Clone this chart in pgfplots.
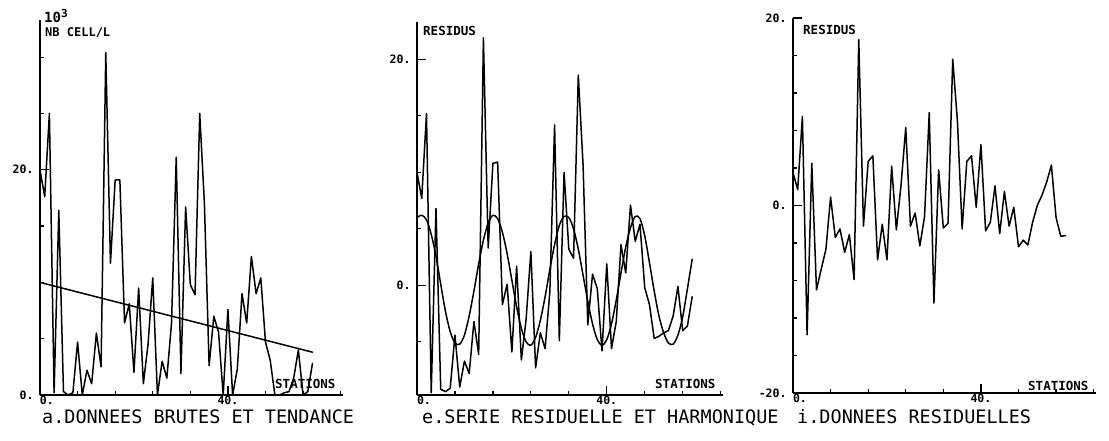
\documentclass[border=0pt]{standalone}
\usepackage{pgfplots}
\pgfplotsset{compat=1.18}
\usepackage{pgfplotstable}
\usepackage{fontspec}
\setmainfont{DejaVu Sans Mono}

\pgfplotstableread{
x a e h i
0 20.0 10.0 6.0 3.5
1 17.6 7.7 6.2 1.7
2 25.0 15.2 5.8 9.5
3 0.2 -9.5 4.5 -13.8
4 16.4 6.8 2.6 4.5
5 0.3 -9.2 0.1 -9.0
6 0.0 -9.4 -2.3 -6.8
7 0.2 -9.1 -4.1 -4.7
8 4.7 -4.4 -5.1 0.9
9 0.0 -9.0 -5.2 -3.4
10 2.2 -6.7 -4.4 -2.5
11 1.0 -7.8 -2.7 -5.0
12 5.5 -3.2 -0.5 -3.1
13 2.5 -6.1 1.9 -7.9
14 30.4 21.9 4.0 17.7
15 11.7 3.3 5.5 -2.2
16 19.1 10.8 6.2 4.7
17 19.1 10.9 5.9 5.3
18 6.4 -1.7 4.7 -5.8
19 8.1 0.1 2.8 -2.0
20 2.0 -5.9 0.45 -5.8
21 9.5 1.7 -1.9 4.2
22 1.0 -6.6 -3.8 -2.6
23 4.5 -3.0 -5.0 2.2
24 10.4 3.0 -5.3 8.3
25 0.0 -7.3 -4.6 -2.2
26 3.0 -4.2 -3.1 -0.8
27 1.5 -5.6 -1.0 -4.3
28 6.4 -0.6 1.4 -1.2
29 21.1 14.2 3.6 9.9
30 1.9 -4.9 5.3 -10.4
31 16.7 10.0 6.1 3.8
32 9.8 3.2 6.0 -2.4
33 8.9 2.4 5.0 -1.9
34 25.0 18.6 3.2 15.6
35 17.0 10.7 0.9 9.0
36 2.6 -3.5 -1.4 -2.5
37 7.0 1.0 -3.4 4.7
38 5.6 -0.3 -4.8 5.3
39 0.0 -5.8 -5.3 -0.2
40 7.6 1.9 -4.8 6.5
41 0.0 -5.6 -3.4 -2.7
42 2.3 -3.2 -1.3 -1.8
43 9.0 3.6 1.1 2.1
44 6.4 1.1 3.4 -3.0
45 12.3 7.1 5.1 1.5
46 9.0 3.9 6.1 -2.2
47 10.4 5.4 5.9 -0.2
48 4.7 -0.2 4.4 -4.4
49 3.1 -1.7 2.0 -3.7
50 0.0 -4.7 -0.5 -4.2
51 0.0 -4.5 -2.7 -1.8
52 0.2 -4.2 -4.2 0.0
53 0.3 -4.0 -5.1 1.1
54 1.5 -2.7 -5.2 2.5
55 4.0 -0.1 -4.4 4.3
56 0.0 -4.0 -2.8 -1.3
57 0.3 -3.6 -0.3 -3.3
58 2.8 -1.0 2.3 -3.2
}\data

\tikzset{pen/.style={black, line width=1.5pt, line join=round, line cap=round, mark=none}}

\pgfplotsset{
  plotter/.style={
    scale only axis,
    axis x line*=bottom, axis y line*=left,
    axis line style={-, black, line width=1.6pt},
    every outer x axis line/.append style={-},
    every outer y axis line/.append style={-},
    tick align=inside,
    tick style={black, line width=1.2pt},
    major tick length=9pt,
    minor tick length=4pt,
    xmin=0, xmax=64.5,
    xtick={0,40}, xticklabels={{\hphantom{00}0.},{40.}},
    minor xtick={8,16,24,32,48,56,64},
    ticklabel style={font=\bfseries\fontsize{11.5}{11.5}\selectfont},
    xticklabel style={yshift=3pt},
    yticklabel style={xshift=-3pt},
  }
}

\begin{document}
\begin{tikzpicture}
\useasboundingbox (0,0) rectangle (1109pt,440pt);

% panel a
\begin{axis}[plotter, at={(40pt,45pt)}, anchor=south west,
  width=303pt, height=375pt, ymin=0, ymax=33.3,
  ytick={0,20}, yticklabels={0.,20.}, minor ytick={5,10,15,25,30}]
\addplot[pen] table[x=x,y=a]{\data};
\addplot[pen] coordinates {(0,10.0) (58,3.8)};
\end{axis}

% panel e
\begin{axis}[plotter, at={(417pt,45pt)}, anchor=south west,
  width=306pt, height=373pt, ymin=-9.7, ymax=23.3,
  ytick={0,20}, yticklabels={0.,20.}, minor ytick={-5,5,10,15}]
\addplot[pen] table[x=x,y=e]{\data};
\addplot[pen, smooth, tension=0.5] table[x=x,y=h]{\data};
\end{axis}

% panel i
\begin{axis}[plotter, at={(793pt,47pt)}, anchor=south west,
  width=303pt, height=375pt, ymin=-20, ymax=20,
  ytick={-20,0,20}, yticklabels={-20.,0.,20.}, minor ytick={-16,-12,-8,-4,4,8,12,16}]
\addplot[pen] table[x=x,y=i]{\data};
\end{axis}

% labels
\node[anchor=base west, font=\bfseries\fontsize{14}{14}\selectfont, inner sep=0pt] at (44pt,417pt) {10\raisebox{5pt}{\fontsize{11}{11}\selectfont 3}};
\node[anchor=base west, font=\bfseries\fontsize{12}{12}\selectfont, inner sep=0pt] at (45pt,403pt) {NB CELL/L};
\node[anchor=base west, font=\bfseries\fontsize{12.5}{12}\selectfont, inner sep=0pt] at (423pt,404pt) {RESIDUS};
\node[anchor=base west, font=\bfseries\fontsize{12.5}{12}\selectfont, inner sep=0pt] at (803pt,405pt) {RESIDUS};
\node[anchor=base west, font=\bfseries\fontsize{12.5}{12}\selectfont, inner sep=0pt] at (275pt,52pt) {STATIONS};
\node[anchor=base west, font=\bfseries\fontsize{12.5}{12}\selectfont, inner sep=0pt] at (655pt,52pt) {STATIONS};
\node[anchor=base west, font=\bfseries\fontsize{12.5}{12}\selectfont, inner sep=0pt] at (1028pt,50pt) {STATIONS};
\node[anchor=base west, font=\fontsize{18.5}{19}\selectfont, inner sep=0pt] at (42pt,17pt) {a.DONNEES BRUTES ET TENDANCE};
\node[anchor=base west, font=\fontsize{18.5}{19}\selectfont, inner sep=0pt] at (422pt,17pt) {e.SERIE RESIDUELLE ET HARMONIQUE};
\node[anchor=base west, font=\fontsize{18.5}{19}\selectfont, inner sep=0pt] at (797pt,17pt) {i.DONNEES RESIDUELLES};
\end{tikzpicture}
\end{document}
